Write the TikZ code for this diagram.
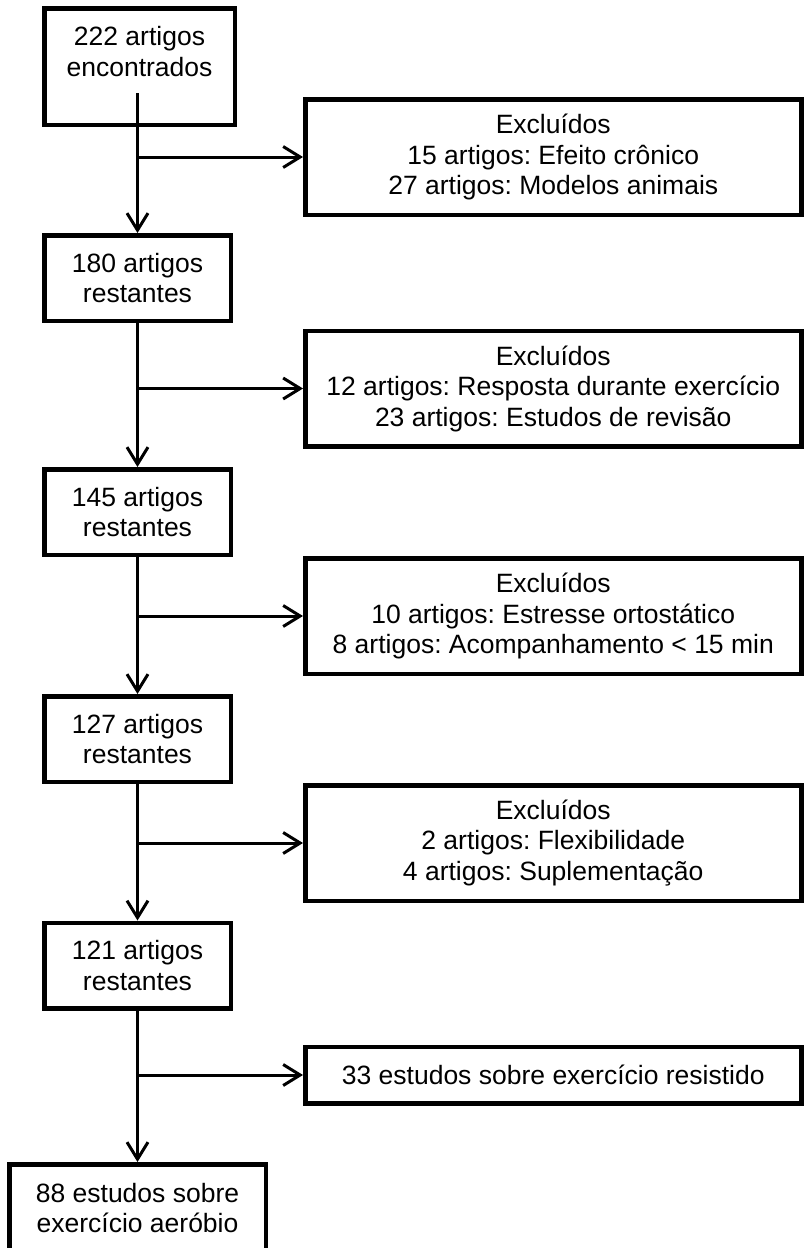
\documentclass[tikz,border=0pt]{standalone}
\usepackage{fontspec}
\setmainfont{Liberation Sans}
\usetikzlibrary{arrows.meta}
\frenchspacing
\tikzset{
  box/.style={draw=black, line width=4.5pt, align=center, inner sep=0pt,
    font=\fontsize{26.5}{30.5}\selectfont\frenchspacing},
  leftbox/.style={box, minimum width=186.5pt, minimum height=85.5pt},
  exbox/.style={box, minimum width=496pt, minimum height=115.5pt},
  conn/.style={draw=black, line width=3pt,
    -{Straight Barb[length=17pt, width=21pt, line width=3pt]}}
}
\begin{document}
\begin{tikzpicture}[x=1pt, y=-1pt]
\clip (0,0) rectangle (804,1248);
\node[box, minimum width=190.5pt, minimum height=116.5pt] (b1) at (139.5,66.5) {222 artigos\\encontrados\\\mbox{}};
\node[leftbox] (b2) at (137.5,278) {180 artigos\\restantes};
\node[leftbox] (b3) at (137.5,512) {145 artigos\\restantes};
\node[leftbox] (b4) at (137.5,739) {127 artigos\\restantes};
\node[leftbox] (b5) at (137.5,965.5) {121 artigos\\restantes};
\node[box, minimum width=256.5pt, minimum height=87.5pt] (b6) at (137.5,1208) {88 estudos sobre\\exercício aeróbio};
\node[exbox] (e1) at (553.25,157) {Excluídos\\15 artigos: Efeito crônico\\27 artigos: Modelos animais};
\node[exbox] (e2) at (553.25,388.5) {Excluídos\\12 artigos: Resposta durante exercício\\23 artigos: Estudos de revisão};
\node[exbox] (e3) at (553.25,616) {Excluídos\\10 artigos: Estresse ortostático\\8 artigos: Acompanhamento < 15 min};
\node[exbox] (e4) at (553.25,843) {Excluídos\\2 artigos: Flexibilidade\\4 artigos: Suplementação};
\node[box, minimum width=496pt, minimum height=56.5pt] (e5) at (553.25,1075) {33 estudos sobre exercício resistido};
\coordinate (s1) at (137.5,93);
\draw[conn] (s1) -- (b2.north);
\draw[conn] (s1 |- e1.west) -- (e1.west);
\draw[conn] (b2.south) -- (b3.north);
\draw[conn] (b2.south |- e2.west) -- (e2.west);
\draw[conn] (b3.south) -- (b4.north);
\draw[conn] (b3.south |- e3.west) -- (e3.west);
\draw[conn] (b4.south) -- (b5.north);
\draw[conn] (b4.south |- e4.west) -- (e4.west);
\draw[conn] (b5.south) -- (b6.north);
\draw[conn] (b5.south |- e5.west) -- (e5.west);
\end{tikzpicture}
\end{document}
